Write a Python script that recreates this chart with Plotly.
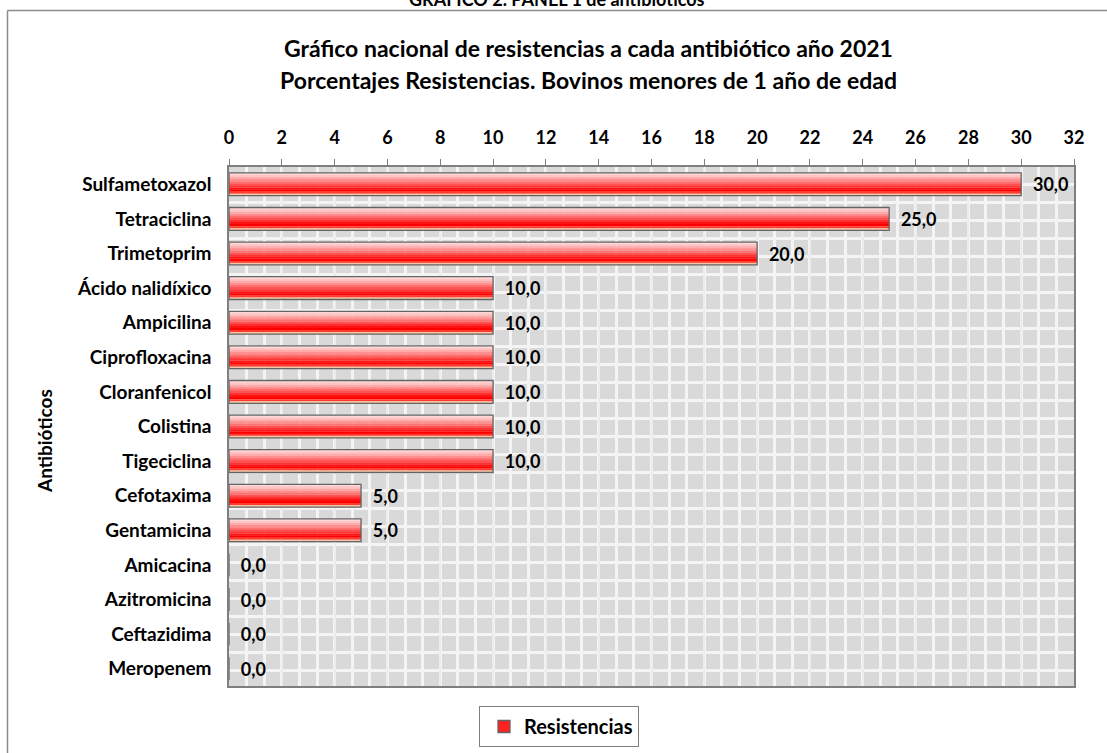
import plotly.graph_objects as go

# data
antibioticos = [
    "Sulfametoxazol", "Tetraciclina", "Trimetoprim", "Ácido nalidíxico",
    "Ampicilina", "Ciprofloxacina", "Cloranfenicol", "Colistina",
    "Tigeciclina", "Cefotaxima", "Gentamicina", "Amicacina",
    "Azitromicina", "Ceftazidima", "Meropenem",
]
resistencias = [30.0, 25.0, 20.0, 10.0, 10.0, 10.0, 10.0, 10.0,
                10.0, 5.0, 5.0, 0.0, 0.0, 0.0, 0.0]
x_ticks = list(range(0, 33, 2))

FONT = "Lato"
W, H = 1107, 753
L, R, T, B = 229, 33, 167, 67
PW, PH = W - L - R, H - T - B


def px_x(p):
    return (p - L) / PW


def px_y(p):
    return (H - B - p) / PH


pos = list(range(len(antibioticos)))

# horizontal colour bands to fake the Excel gradient fill (top -> bottom)
bands = ["#ffd8d8", "#ffc4c4", "#ffaaaa", "#ff8e8e", "#ff7070", "#ff5252",
         "#ff3232", "#ff1212", "#ff0000", "#ff3a2e", "#f8c4a6"]
bar_w = 0.66
band_h = bar_w / len(bands)

fig = go.Figure()
for i, c in enumerate(bands):
    fig.add_trace(go.Bar(
        x=resistencias, y=pos, orientation="h",
        width=band_h + 0.004, offset=-bar_w / 2 + i * band_h,
        marker=dict(color=c, line=dict(width=0)),
        showlegend=False, hoverinfo="skip",
    ))

# outline + value labels
fig.add_trace(go.Bar(
    x=resistencias, y=pos, orientation="h",
    width=bar_w, offset=-bar_w / 2,
    marker=dict(color="rgba(0,0,0,0)", line=dict(color="#646464", width=1.3)),
    texttemplate="\u00a0\u00a0%{x:.1f}", textposition="outside",
    textfont=dict(family=FONT, size=18, color="black", weight="bold"),
    constraintext="none", cliponaxis=False,
    showlegend=False,
))

# legend entry
fig.add_trace(go.Bar(
    x=[None], y=[None], orientation="h", name="<b>Resistencias</b>",
    marker=dict(color="#ff2020", line=dict(color="#646464", width=1.3)),
))

fig.update_layout(
    width=W, height=H,
    margin=dict(l=L, r=R, t=T, b=B, autoexpand=False),
    paper_bgcolor="white", plot_bgcolor="#d9d9d9",
    barmode="overlay", separators=",.",
    font=dict(family=FONT, size=17, color="black"),
    showlegend=True,
    legend=dict(
        x=px_x(479), y=px_y(706), xanchor="left", yanchor="top",
        bordercolor="#7f7f7f", borderwidth=1, bgcolor="white",
        font=dict(family=FONT, size=20, color="black", weight="bold"),
        indentation=4,
    ),
)

fig.update_xaxes(
    side="top", range=[0, 32], tickvals=x_ticks,
    ticks="outside", ticklen=6, tickcolor="#7f7f7f", tickwidth=1.3,
    tickfont=dict(family=FONT, size=18, weight="bold"),
    ticklabelstandoff=8,
    showline=True, linecolor="#7f7f7f", linewidth=1.5, mirror=True,
    showgrid=True, gridcolor="#ececec", gridwidth=1.5,
    minor=dict(tick0=0, dtick=2 / 3, showgrid=True, gridcolor="#f4f4f4",
               gridwidth=2.5, ticks=""),
    zeroline=False, fixedrange=True,
)
fig.update_yaxes(
    range=[len(antibioticos) - 0.5, -0.5],
    tickvals=pos, ticktext=antibioticos,
    ticks="", ticklabelstandoff=12,
    tickfont=dict(family=FONT, size=19, weight="bold"),
    showline=True, linecolor="#7f7f7f", linewidth=1.5, mirror=True,
    showgrid=False,
    minor=dict(tick0=-0.5, dtick=0.52, showgrid=True, gridcolor="#f4f4f4",
               gridwidth=2.5, ticks=""),
    zeroline=False, fixedrange=True,
)

# chart frame (partly outside the screenshot)
fig.add_shape(type="line", xref="paper", yref="paper",
              x0=px_x(7.5), x1=px_x(1120), y0=px_y(10.5), y1=px_y(10.5),
              line=dict(color="#8c8c8c", width=1.5))
fig.add_shape(type="line", xref="paper", yref="paper",
              x0=px_x(7.5), x1=px_x(7.5), y0=px_y(10.5), y1=px_y(760),
              line=dict(color="#8c8c8c", width=1.5))

bold = dict(family=FONT, color="black", weight="bold")
fig.add_annotation(text="GRÁFICO 2. PANEL 1 de antibióticos", xref="paper", yref="paper",
                   x=px_x(557), y=px_y(-1), xanchor="center", yanchor="middle",
                   showarrow=False, font=dict(size=18, **bold))
fig.add_annotation(text="Gráfico nacional de resistencias a cada antibiótico año 2021",
                   xref="paper", yref="paper", x=px_x(588), y=px_y(48),
                   xanchor="center", yanchor="middle", showarrow=False,
                   font=dict(size=23, **bold))
fig.add_annotation(text="Porcentajes Resistencias. Bovinos menores de 1 año de edad",
                   xref="paper", yref="paper", x=px_x(588), y=px_y(80),
                   xanchor="center", yanchor="middle", showarrow=False,
                   font=dict(size=23, **bold))
fig.add_annotation(text="Antibióticos", xref="paper", yref="paper",
                   x=px_x(45), y=px_y(441), textangle=-90,
                   xanchor="center", yanchor="middle", showarrow=False,
                   font=dict(size=19, **bold))

# the page has a default 8px body margin; drop it so pixel positions line up
fig.write_html("out.html", config={"displayModeBar": False},
               post_script="document.body.style.margin='0';")
